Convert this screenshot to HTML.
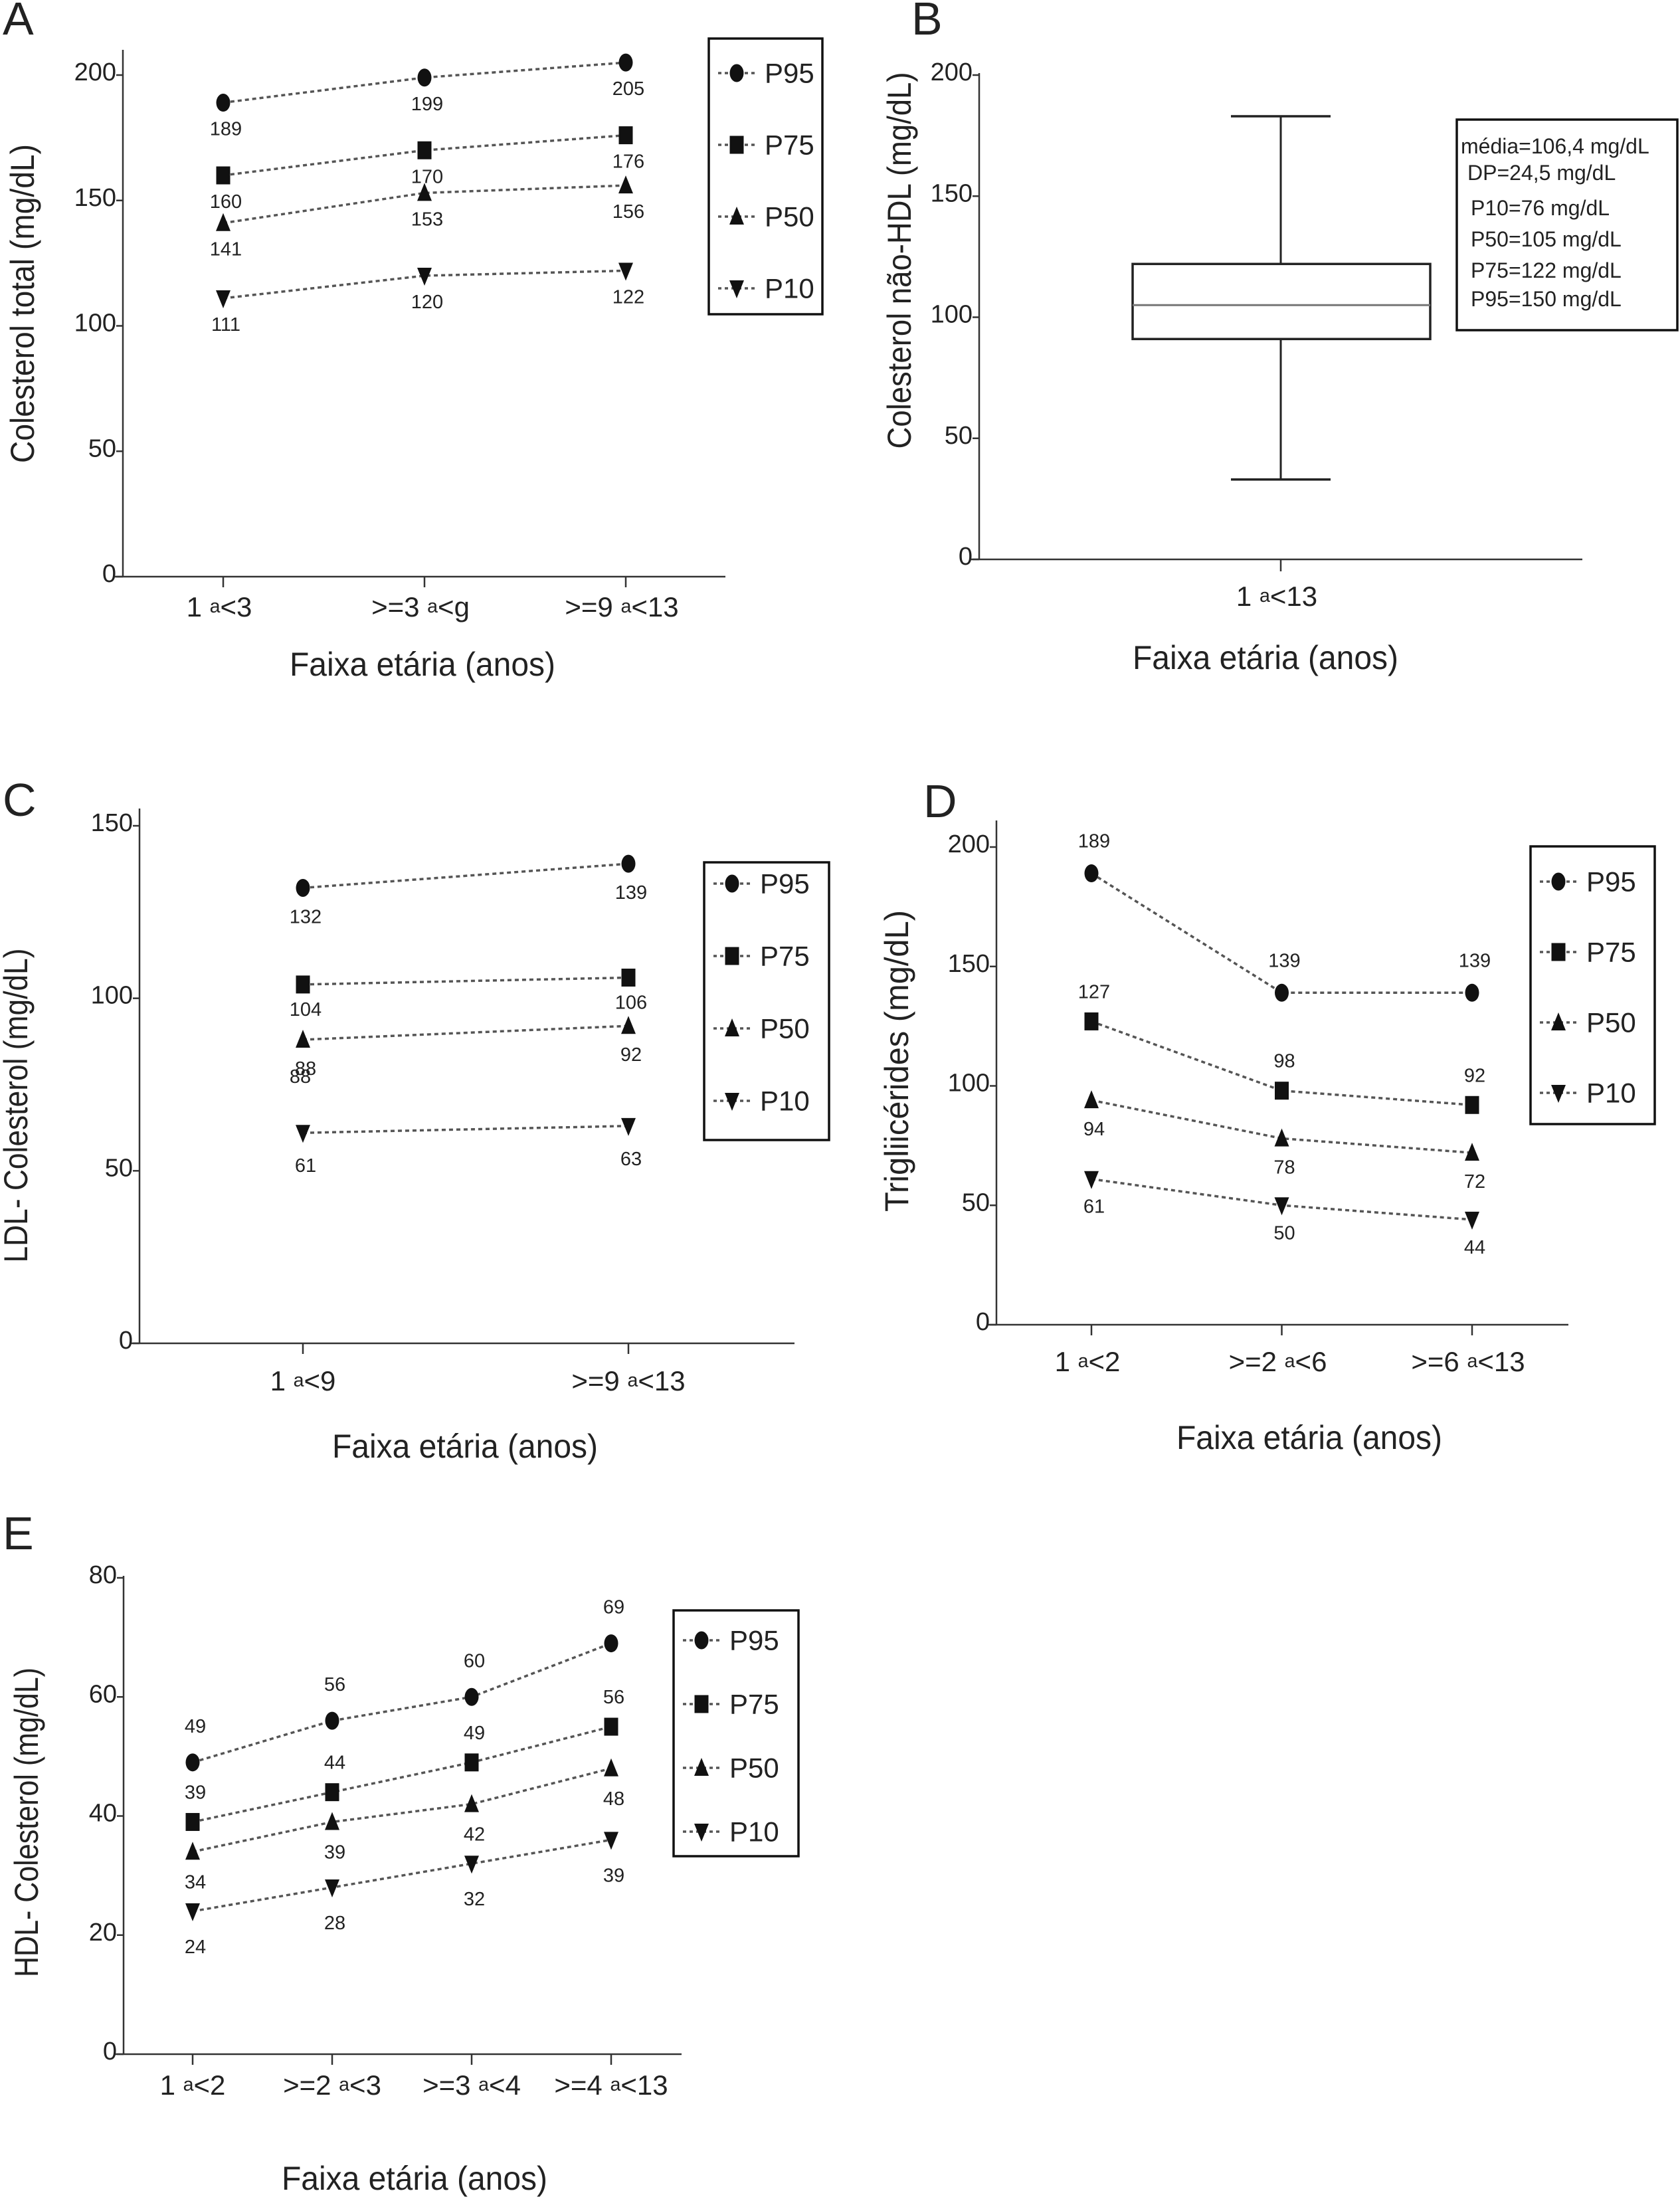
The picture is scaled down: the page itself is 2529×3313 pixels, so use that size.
<!DOCTYPE html>
<html><head><meta charset="utf-8"><style>
html,body{margin:0;padding:0;background:#fff;}
svg{display:block;font-family:"Liberation Sans",Arial,sans-serif;}
</style></head><body>
<svg id="fig" xmlns="http://www.w3.org/2000/svg" width="2529" height="3313" viewBox="0 0 2529 3313"></svg>
<script>
// ---------- DATA ----------
// Panel A
const catsA = [["1","a","<3"],[">=3","a","<g"],[">=9","a","<13"]];
const p95A = [189,199,205], p75A = [160,170,176], p50A = [141,153,156], p10A = [111,120,122];
const ticksA = [0,50,100,150,200];
// Panel B
const catsB = [["1","a","<13"]];
const boxB = {wlo:33, q1:91, med:105, q3:122, whi:183};
const ticksB = [0,50,100,150,200];
const statsB = ["média=106,4 mg/dL","DP=24,5 mg/dL","P10=76 mg/dL","P50=105 mg/dL","P75=122 mg/dL","P95=150 mg/dL"];
// Panel C
const catsC = [["1","a","<9"],[">=9","a","<13"]];
const p95C = [132,139], p75C = [104,106], p50C = [88,92], p10C = [61,63];
const dupLabelC = ["88"];
const ticksC = [0,50,100,150];
// Panel D
const catsD = [["1","a","<2"],[">=2","a","<6"],[">=6","a","<13"]];
const p95D = [189,139,139], p75D = [127,98,92], p50D = [94,78,72], p10D = [61,50,44];
const ticksD = [0,50,100,150,200];
// Panel E (plotted positions and printed labels differ in the source)
const catsE = [["1","a","<2"],[">=2","a","<3"],[">=3","a","<4"],[">=4","a","<13"]];
const p95E = [49,56,60,69], p75E = [39,44,49,55], p50E = [34,39,42,48], p10E = [24,28,32,36];
const p95Elab = [49,56,60,69], p75Elab = [39,44,49,56], p50Elab = [34,39,42,48], p10Elab = [24,28,32,39];
const ticksE = [0,20,40,60,80];
const seriesNames = ["P95","P75","P50","P10"];

// ---------- HELPERS ----------
const NS = "http://www.w3.org/2000/svg";
const svg = document.getElementById("fig");
function mk(tag, attrs, parent){
  const e = document.createElementNS(NS, tag);
  for (const k in attrs) e.setAttribute(k, attrs[k]);
  (parent||svg).appendChild(e);
  return e;
}
function marker(g, type, x, y){
  let e;
  if (type===0) e = mk("ellipse",{cx:x,cy:y,rx:10.5,ry:13.5,fill:"#111"},g);
  else if (type===1) e = mk("rect",{x:x-10.5,y:y-13.5,width:21,height:27,fill:"#111"},g);
  else if (type===2) e = mk("polygon",{points:`${x},${y-15} ${x+11},${y+12} ${x-11},${y+12}`,fill:"#111"},g);
  else e = mk("polygon",{points:`${x-11},${y-12} ${x+11},${y-12} ${x},${y+15}`,fill:"#111"},g);
  
  
  return e;
}
function catLabel(g, parts, x, y, fs){
  const t = mk("text",{x:x,y:y,"text-anchor":"middle","font-size":fs,fill:"#222","dominant-baseline":"central"},g);
  
  
  const a = mk("tspan",{},t); a.textContent = parts[0] + " ";
  const b = mk("tspan",{"font-size":fs*0.68},t); b.textContent = parts[1];
  const c = mk("tspan",{},t); c.textContent = parts[2];
  return t;
}
function axes(g, cfg, ticks){
  const yS = v => cfg.y0 - (v/cfg.yMax)*(cfg.y0-cfg.yMaxPx);
  const ax = mk("line",{x1:cfg.ax,y1:cfg.top,x2:cfg.ax,y2:cfg.y0,stroke:"#333","stroke-width":2.5},g);
  
  
  const xa = mk("line",{x1:cfg.ax-12,y1:cfg.y0,x2:cfg.xEnd,y2:cfg.y0,stroke:"#333","stroke-width":2.5},g);
  
  
  ticks.forEach(v=>{
    const y = yS(v);
    const tm = mk("line",{x1:cfg.ax-10,y1:y,x2:cfg.ax,y2:y,stroke:"#333","stroke-width":2.5},g);
    
    
    const tl = mk("text",{x:cfg.ax-10,y:y-4,"text-anchor":"end","font-size":38,fill:"#222","dominant-baseline":"central"},g);
    
    
    tl.textContent = v;
  });
  const pl = mk("text",{x:cfg.plx,y:cfg.ply,"font-size":70,fill:"#222"},g);
  
  
  pl.textContent = cfg.letter;
  const yt = mk("text",{x:0,y:0,"text-anchor":"middle","font-size":50,fill:"#222","dominant-baseline":"central",
    textLength:cfg.ytLen,lengthAdjust:"spacingAndGlyphs",transform:`translate(${cfg.ytx},${cfg.yty}) rotate(-90)`},g);
  
  
  yt.textContent = cfg.ytitle;
  const xt = mk("text",{x:cfg.xtx,y:cfg.xty,"text-anchor":"middle","font-size":50,fill:"#222","dominant-baseline":"central",
    textLength:400,lengthAdjust:"spacingAndGlyphs"},g);
  
  
  xt.textContent = "Faixa etária (anos)";
  return yS;
}
function linePanel(name, cfg, cats, series, labels, ticks){
  const g = mk("g",{});
  
  
  const yS = axes(g, cfg, ticks);
  const xS = i => cfg.cx0 + i*cfg.cstep;
  cats.forEach((c,i)=>{
    const tk = mk("line",{x1:xS(i),y1:cfg.y0,x2:xS(i),y2:cfg.y0+16,stroke:"#333","stroke-width":2.5},g);
    
    
    catLabel(g, c, xS(i)+cfg.clDx, cfg.cly, 42);
  });
  series.forEach((vals,s)=>{
    const pts = vals.map((v,i)=>xS(i)+","+yS(v)).join(" ");
    const pln = mk("polyline",{points:pts,fill:"none",stroke:"#555","stroke-width":3.5,"stroke-dasharray":"6 5"},g);
    
    
    vals.forEach((v,i)=>{
      marker(g, s, xS(i), yS(v));
      const lt = mk("text",{x:xS(i)+4,y:yS(v)+cfg.ldy[s],"text-anchor":"middle","font-size":29,fill:"#222","dominant-baseline":"central"},g);
      
      
      lt.textContent = labels[s][i];
    });
  });
  // legend
  const lb = mk("rect",{x:cfg.lx,y:cfg.ly,width:cfg.lw,height:cfg.lh,fill:"#fff",stroke:"#111","stroke-width":3.5},g);
  
  
  seriesNames.forEach((n,s)=>{
    const y = cfg.ly + cfg.le0 + s*cfg.lestep;
    const ll = mk("line",{x1:cfg.lx+14,y1:y,x2:cfg.lx+70,y2:y,stroke:"#555","stroke-width":3.5,"stroke-dasharray":"5 5"},g);
    
    
    marker(g, s, cfg.lx+42, y);
    const t = mk("text",{x:cfg.lx+84,y:y,"font-size":42,fill:"#222","dominant-baseline":"central"},g);
    
    
    t.textContent = n;
  });
  return {g, xS, yS};
}

// ---------- PANEL A ----------
linePanel("panel-a-total-cholesterol",{
  letter:"A",plx:4,ply:52,ax:185,top:75,y0:868,yMaxPx:113,yMax:200,xEnd:1092,
  cx0:336,cstep:303,cly:913,clDx:-6,
  ytitle:"Colesterol  total (mg/dL)",ytx:34,yty:457,ytLen:480,xtx:636,xty:1000,
  ldy:[40,40,40,40],lx:1067,ly:58,lw:171,lh:415,le0:52,lestep:108
},catsA,[p95A,p75A,p50A,p10A],[p95A,p75A,p50A,p10A],ticksA);

// ---------- PANEL B ----------
(function(){
  const g = mk("g",{});
  
  
  const cfg = {letter:"B",plx:1372,ply:52,ax:1474,top:110,y0:842,yMaxPx:113,yMax:200,xEnd:2382,
    ytitle:"Colesterol não-HDL (mg/dL)",ytx:1354,yty:392,ytLen:567,xtx:1905,xty:990};
  const yS = axes(g, cfg, ticksB);
  const cx = 1928;
  const tk = mk("line",{x1:cx,y1:cfg.y0,x2:cx,y2:cfg.y0+18,stroke:"#333","stroke-width":2.5},g);
  
  
  catLabel(g, catsB[0], cx-6, 897, 42);
  const w1 = mk("line",{x1:cx,y1:yS(boxB.whi),x2:cx,y2:yS(boxB.q3),stroke:"#222","stroke-width":3},g);
  
  
  const w2 = mk("line",{x1:cx,y1:yS(boxB.q1),x2:cx,y2:yS(boxB.wlo),stroke:"#222","stroke-width":3},g);
  
  
  const c1 = mk("line",{x1:cx-75,y1:yS(boxB.whi),x2:cx+75,y2:yS(boxB.whi),stroke:"#222","stroke-width":3.5},g);
  
  
  const c2 = mk("line",{x1:cx-75,y1:yS(boxB.wlo),x2:cx+75,y2:yS(boxB.wlo),stroke:"#222","stroke-width":3.5},g);
  
  
  const bx = mk("rect",{x:1705,y:yS(boxB.q3),width:448,height:yS(boxB.q1)-yS(boxB.q3),fill:"#fff",stroke:"#222","stroke-width":3.5},g);
  
  
  const md = mk("line",{x1:1705,y1:yS(boxB.med),x2:2153,y2:yS(boxB.med),stroke:"#777","stroke-width":3},g);
  
  
  const sb = mk("rect",{x:2193,y:180,width:332,height:317,fill:"#fff",stroke:"#111","stroke-width":3.5},g);
  
  
  const ys = [220,260,313,360,407,450], xs=[2199,2209,2214,2214,2214,2214];
  statsB.forEach((s,i)=>{
    const t = mk("text",{x:xs[i],y:ys[i],"font-size":32,fill:"#222","dominant-baseline":"central"},g);
    
    
    t.textContent = s;
  });
})();

// ---------- PANEL C ----------
const pc = linePanel("panel-c-ldl-cholesterol",{
  letter:"C",plx:4,ply:1228,ax:210,top:1217,y0:2022,yMaxPx:1243,yMax:150,xEnd:1196,
  cx0:456,cstep:490,cly:2078,clDx:0,
  ytitle:"LDL- Colesterol (mg/dL)",ytx:24,yty:1664,ytLen:473,xtx:700,xty:2177,
  ldy:[44,38,44,50],lx:1060,ly:1298,lw:188,lh:418,le0:32,lestep:109
},catsC,[p95C,p75C,p50C,p10C],[p95C,p75C,p50C,p10C],ticksC);
dupLabelC.forEach((l,i)=>{
  const t = mk("text",{x:pc.xS(i)-4,y:pc.yS(p50C[i])+56,"text-anchor":"middle","font-size":29,fill:"#222","dominant-baseline":"central"},pc.g);
  
  
  t.textContent = l;
});

// ---------- PANEL D ----------
linePanel("panel-d-triglycerides",{
  letter:"D",plx:1390,ply:1230,ax:1500,top:1235,y0:1994,yMaxPx:1275,yMax:200,xEnd:2361,
  cx0:1643,cstep:286.5,cly:2049,clDx:-6,
  ytitle:"Trigliicérides  (mg/dL)",ytx:1350,yty:1597,ytLen:454,xtx:1971,xty:2164,
  ldy:[-48,-44,44,42],lx:2304,ly:1274,lw:187,lh:418,le0:53,lestep:106
},catsD,[p95D,p75D,p50D,p10D],[p95D,p75D,p50D,p10D],ticksD);

// ---------- PANEL E ----------
linePanel("panel-e-hdl-cholesterol",{
  letter:"E",plx:4,ply:2332,ax:186,top:2372,y0:3092,yMaxPx:2375,yMax:80,xEnd:1026,
  cx0:290,cstep:210,cly:3138,clDx:0,
  ytitle:"HDL- Colesterol (mg/dL)",ytx:40,yty:2743,ytLen:466,xtx:624,xty:3279,
  ldy:[-54,-44,46,54],lx:1014,ly:2424,lw:188,lh:370,le0:45,lestep:96
},catsE,[p95E,p75E,p50E,p10E],[p95Elab,p75Elab,p50Elab,p10Elab],ticksE);
</script>
</body></html>
